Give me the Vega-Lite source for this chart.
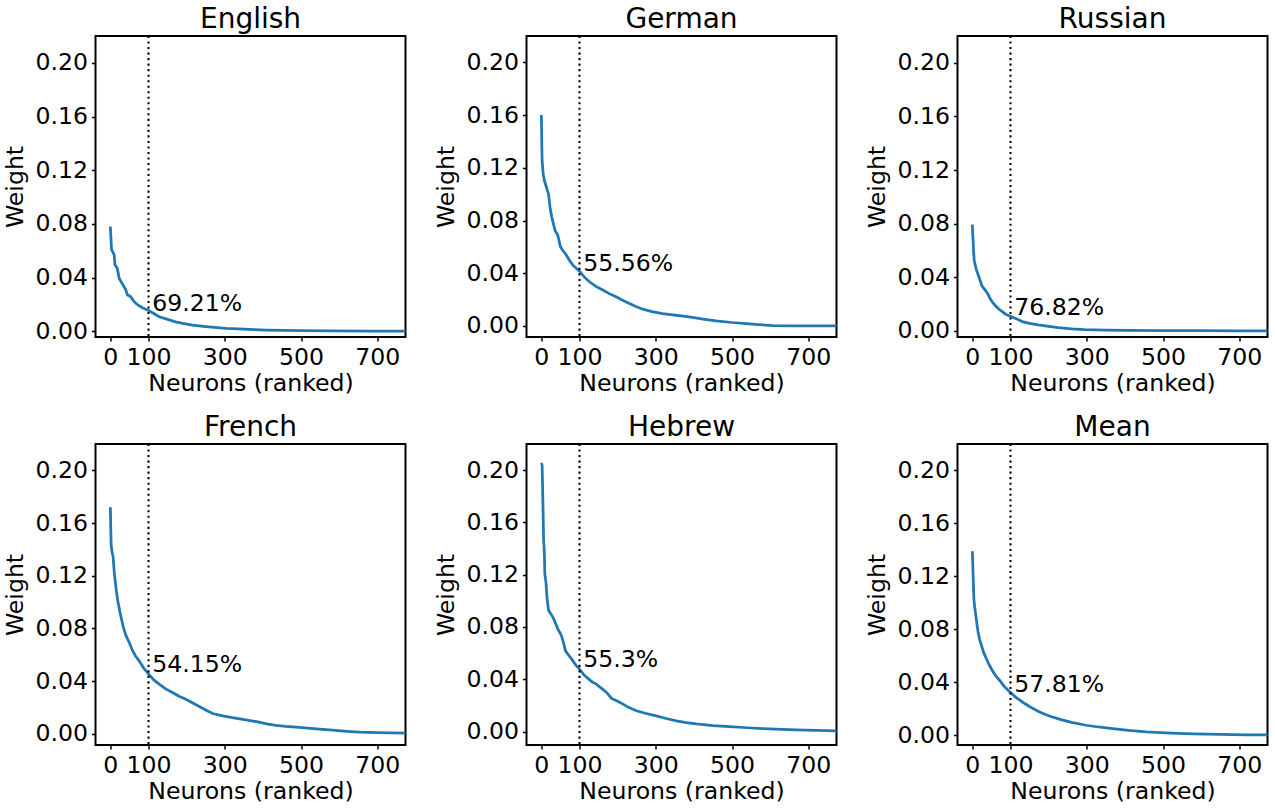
{
  "$schema": "https://vega.github.io/schema/vega-lite/v6.json",
  "background": "white",
  "padding": {"left": 2.5, "top": 5, "right": 5, "bottom": 5},
  "bounds": "flush",
  "columns": 3,
  "spacing": {"row": 107, "column": 121},
  "datasets": {
    "curves": [
      {"lang":"English","rank":0,"weight":0.078},{"lang":"English","rank":1,"weight":0.072},{"lang":"English","rank":3,"weight":0.061},{"lang":"English","rank":8,"weight":0.058},{"lang":"English","rank":10,"weight":0.057},{"lang":"English","rank":12,"weight":0.0495},{"lang":"English","rank":18,"weight":0.047},{"lang":"English","rank":23,"weight":0.0395},{"lang":"English","rank":28,"weight":0.037},{"lang":"English","rank":33,"weight":0.0345},{"lang":"English","rank":40,"weight":0.031},{"lang":"English","rank":45,"weight":0.027},{"lang":"English","rank":53,"weight":0.0258},{"lang":"English","rank":60,"weight":0.023},{"lang":"English","rank":66,"weight":0.021},{"lang":"English","rank":75,"weight":0.019},{"lang":"English","rank":84,"weight":0.0175},{"lang":"English","rank":100,"weight":0.0155},{"lang":"English","rank":115,"weight":0.013},{"lang":"English","rank":128,"weight":0.0108},{"lang":"English","rank":150,"weight":0.0088},{"lang":"English","rank":171,"weight":0.007},{"lang":"English","rank":190,"weight":0.0058},{"lang":"English","rank":215,"weight":0.0045},{"lang":"English","rank":250,"weight":0.0035},{"lang":"English","rank":303,"weight":0.0022},{"lang":"English","rank":350,"weight":0.0015},{"lang":"English","rank":408,"weight":0.0009},{"lang":"English","rank":500,"weight":0.0005},{"lang":"English","rank":583,"weight":0.0003},{"lang":"English","rank":680,"weight":0.0001},{"lang":"English","rank":774,"weight":0.0},
      {"lang":"German","rank":0,"weight":0.16},{"lang":"German","rank":1,"weight":0.14},{"lang":"German","rank":2,"weight":0.125},{"lang":"German","rank":5,"weight":0.115},{"lang":"German","rank":8,"weight":0.11},{"lang":"German","rank":14,"weight":0.1047},{"lang":"German","rank":19,"weight":0.0996},{"lang":"German","rank":23,"weight":0.0895},{"lang":"German","rank":27,"weight":0.083},{"lang":"German","rank":30,"weight":0.0793},{"lang":"German","rank":36,"weight":0.0722},{"lang":"German","rank":43,"weight":0.069},{"lang":"German","rank":50,"weight":0.06},{"lang":"German","rank":57,"weight":0.057},{"lang":"German","rank":65,"weight":0.054},{"lang":"German","rank":73,"weight":0.05},{"lang":"German","rank":82,"weight":0.0463},{"lang":"German","rank":100,"weight":0.0415},{"lang":"German","rank":113,"weight":0.037},{"lang":"German","rank":126,"weight":0.0335},{"lang":"German","rank":143,"weight":0.03},{"lang":"German","rank":161,"weight":0.0272},{"lang":"German","rank":178,"weight":0.0245},{"lang":"German","rank":196,"weight":0.0221},{"lang":"German","rank":213,"weight":0.0195},{"lang":"German","rank":231,"weight":0.017},{"lang":"German","rank":248,"weight":0.0148},{"lang":"German","rank":266,"weight":0.0127},{"lang":"German","rank":290,"weight":0.0108},{"lang":"German","rank":318,"weight":0.0094},{"lang":"German","rank":350,"weight":0.0082},{"lang":"German","rank":388,"weight":0.0069},{"lang":"German","rank":420,"weight":0.0053},{"lang":"German","rank":458,"weight":0.0038},{"lang":"German","rank":500,"weight":0.0026},{"lang":"German","rank":537,"weight":0.0018},{"lang":"German","rank":570,"weight":0.001},{"lang":"German","rank":607,"weight":0.0003},{"lang":"German","rank":650,"weight":0.0001},{"lang":"German","rank":700,"weight":0.0},{"lang":"German","rank":774,"weight":0.0},
      {"lang":"Russian","rank":0,"weight":0.0793},{"lang":"Russian","rank":1,"weight":0.072},{"lang":"Russian","rank":2,"weight":0.0673},{"lang":"Russian","rank":3,"weight":0.06},{"lang":"Russian","rank":5,"weight":0.0524},{"lang":"Russian","rank":10,"weight":0.0461},{"lang":"Russian","rank":17,"weight":0.0404},{"lang":"Russian","rank":25,"weight":0.0337},{"lang":"Russian","rank":32,"weight":0.031},{"lang":"Russian","rank":40,"weight":0.0279},{"lang":"Russian","rank":47,"weight":0.024},{"lang":"Russian","rank":53,"weight":0.0212},{"lang":"Russian","rank":60,"weight":0.019},{"lang":"Russian","rank":70,"weight":0.0162},{"lang":"Russian","rank":80,"weight":0.014},{"lang":"Russian","rank":87,"weight":0.0125},{"lang":"Russian","rank":100,"weight":0.011},{"lang":"Russian","rank":115,"weight":0.0092},{"lang":"Russian","rank":131,"weight":0.007},{"lang":"Russian","rank":150,"weight":0.0057},{"lang":"Russian","rank":173,"weight":0.0045},{"lang":"Russian","rank":200,"weight":0.0034},{"lang":"Russian","rank":225,"weight":0.0025},{"lang":"Russian","rank":260,"weight":0.0016},{"lang":"Russian","rank":295,"weight":0.001},{"lang":"Russian","rank":350,"weight":0.0007},{"lang":"Russian","rank":400,"weight":0.0005},{"lang":"Russian","rank":500,"weight":0.0003},{"lang":"Russian","rank":600,"weight":0.0002},{"lang":"Russian","rank":700,"weight":0.0001},{"lang":"Russian","rank":774,"weight":0.0},
      {"lang":"French","rank":0,"weight":0.172},{"lang":"French","rank":1,"weight":0.156},{"lang":"French","rank":2,"weight":0.1434},{"lang":"French","rank":5,"weight":0.137},{"lang":"French","rank":7,"weight":0.135},{"lang":"French","rank":10,"weight":0.123},{"lang":"French","rank":13,"weight":0.115},{"lang":"French","rank":16,"weight":0.1078},{"lang":"French","rank":20,"weight":0.1},{"lang":"French","rank":25,"weight":0.0925},{"lang":"French","rank":30,"weight":0.086},{"lang":"French","rank":34,"weight":0.081},{"lang":"French","rank":40,"weight":0.0752},{"lang":"French","rank":45,"weight":0.072},{"lang":"French","rank":49,"weight":0.0696},{"lang":"French","rank":58,"weight":0.0632},{"lang":"French","rank":66,"weight":0.059},{"lang":"French","rank":75,"weight":0.0555},{"lang":"French","rank":87,"weight":0.05},{"lang":"French","rank":100,"weight":0.0455},{"lang":"French","rank":113,"weight":0.041},{"lang":"French","rank":128,"weight":0.0377},{"lang":"French","rank":145,"weight":0.034},{"lang":"French","rank":163,"weight":0.0313},{"lang":"French","rank":180,"weight":0.0285},{"lang":"French","rank":198,"weight":0.0262},{"lang":"French","rank":215,"weight":0.0235},{"lang":"French","rank":233,"weight":0.0206},{"lang":"French","rank":250,"weight":0.018},{"lang":"French","rank":268,"weight":0.0153},{"lang":"French","rank":295,"weight":0.0135},{"lang":"French","rank":320,"weight":0.0122},{"lang":"French","rank":355,"weight":0.0105},{"lang":"French","rank":390,"weight":0.0088},{"lang":"French","rank":410,"weight":0.0075},{"lang":"French","rank":434,"weight":0.0063},{"lang":"French","rank":460,"weight":0.0055},{"lang":"French","rank":495,"weight":0.0047},{"lang":"French","rank":540,"weight":0.0037},{"lang":"French","rank":583,"weight":0.0027},{"lang":"French","rank":620,"weight":0.0018},{"lang":"French","rank":653,"weight":0.0012},{"lang":"French","rank":700,"weight":0.0008},{"lang":"French","rank":774,"weight":0.0005},
      {"lang":"Hebrew","rank":0,"weight":0.2056},{"lang":"Hebrew","rank":2,"weight":0.2038},{"lang":"Hebrew","rank":3,"weight":0.19},{"lang":"Hebrew","rank":4,"weight":0.1757},{"lang":"Hebrew","rank":6,"weight":0.145},{"lang":"Hebrew","rank":7,"weight":0.142},{"lang":"Hebrew","rank":8,"weight":0.1348},{"lang":"Hebrew","rank":9,"weight":0.1207},{"lang":"Hebrew","rank":12,"weight":0.1143},{"lang":"Hebrew","rank":15,"weight":0.1015},{"lang":"Hebrew","rank":19,"weight":0.0926},{"lang":"Hebrew","rank":25,"weight":0.09},{"lang":"Hebrew","rank":30,"weight":0.0875},{"lang":"Hebrew","rank":37,"weight":0.083},{"lang":"Hebrew","rank":43,"weight":0.0785},{"lang":"Hebrew","rank":50,"weight":0.075},{"lang":"Hebrew","rank":54,"weight":0.0721},{"lang":"Hebrew","rank":58,"weight":0.068},{"lang":"Hebrew","rank":63,"weight":0.0619},{"lang":"Hebrew","rank":70,"weight":0.059},{"lang":"Hebrew","rank":78,"weight":0.056},{"lang":"Hebrew","rank":90,"weight":0.051},{"lang":"Hebrew","rank":100,"weight":0.0478},{"lang":"Hebrew","rank":111,"weight":0.0435},{"lang":"Hebrew","rank":122,"weight":0.0407},{"lang":"Hebrew","rank":133,"weight":0.038},{"lang":"Hebrew","rank":144,"weight":0.0363},{"lang":"Hebrew","rank":158,"weight":0.033},{"lang":"Hebrew","rank":171,"weight":0.0299},{"lang":"Hebrew","rank":184,"weight":0.0253},{"lang":"Hebrew","rank":200,"weight":0.0232},{"lang":"Hebrew","rank":214,"weight":0.021},{"lang":"Hebrew","rank":230,"weight":0.0183},{"lang":"Hebrew","rank":249,"weight":0.0159},{"lang":"Hebrew","rank":275,"weight":0.0138},{"lang":"Hebrew","rank":301,"weight":0.012},{"lang":"Hebrew","rank":330,"weight":0.0098},{"lang":"Hebrew","rank":354,"weight":0.0082},{"lang":"Hebrew","rank":380,"weight":0.0068},{"lang":"Hebrew","rank":406,"weight":0.0058},{"lang":"Hebrew","rank":450,"weight":0.0046},{"lang":"Hebrew","rank":494,"weight":0.0037},{"lang":"Hebrew","rank":540,"weight":0.0029},{"lang":"Hebrew","rank":581,"weight":0.0023},{"lang":"Hebrew","rank":630,"weight":0.0017},{"lang":"Hebrew","rank":669,"weight":0.0013},{"lang":"Hebrew","rank":720,"weight":0.0009},{"lang":"Hebrew","rank":774,"weight":0.0005},
      {"lang":"Mean","rank":0,"weight":0.139},{"lang":"Mean","rank":1,"weight":0.13},{"lang":"Mean","rank":2,"weight":0.121},{"lang":"Mean","rank":3,"weight":0.111},{"lang":"Mean","rank":4,"weight":0.1033},{"lang":"Mean","rank":6,"weight":0.097},{"lang":"Mean","rank":9,"weight":0.0906},{"lang":"Mean","rank":12,"weight":0.084},{"lang":"Mean","rank":15,"weight":0.078},{"lang":"Mean","rank":19,"weight":0.0725},{"lang":"Mean","rank":24,"weight":0.0678},{"lang":"Mean","rank":29,"weight":0.063},{"lang":"Mean","rank":35,"weight":0.059},{"lang":"Mean","rank":42,"weight":0.0545},{"lang":"Mean","rank":50,"weight":0.0501},{"lang":"Mean","rank":60,"weight":0.0455},{"lang":"Mean","rank":72,"weight":0.0413},{"lang":"Mean","rank":85,"weight":0.0365},{"lang":"Mean","rank":100,"weight":0.0324},{"lang":"Mean","rank":115,"weight":0.0285},{"lang":"Mean","rank":133,"weight":0.0248},{"lang":"Mean","rank":153,"weight":0.0212},{"lang":"Mean","rank":176,"weight":0.0177},{"lang":"Mean","rank":200,"weight":0.0148},{"lang":"Mean","rank":228,"weight":0.0122},{"lang":"Mean","rank":260,"weight":0.0098},{"lang":"Mean","rank":298,"weight":0.0076},{"lang":"Mean","rank":330,"weight":0.0063},{"lang":"Mean","rank":368,"weight":0.0051},{"lang":"Mean","rank":410,"weight":0.0038},{"lang":"Mean","rank":456,"weight":0.0027},{"lang":"Mean","rank":520,"weight":0.0017},{"lang":"Mean","rank":581,"weight":0.0011},{"lang":"Mean","rank":650,"weight":0.0007},{"lang":"Mean","rank":720,"weight":0.0004},{"lang":"Mean","rank":774,"weight":0.0003}
    ],
    "notes": [
      {"lang":"English","label":"69.21%"},
      {"lang":"German","label":"55.56%"},
      {"lang":"Russian","label":"76.82%"},
      {"lang":"French","label":"54.15%"},
      {"lang":"Hebrew","label":"55.3%"},
      {"lang":"Mean","label":"57.81%"}
    ]
  },
  "concat": [
    {"title":"English","width":310,"height":301,"layer":[
      {"data":{"name":"curves"},"transform":[{"filter":"datum.lang === 'English'"}],"mark":{"type":"line","color":"#1f77b4","strokeWidth":2.75},
       "encoding":{"x":{"field":"rank","type":"quantitative","title":"Neurons (ranked)","scale":{"domain":[-39,774],"nice":false,"zero":false},"axis":{"values":[0,100,300,500,700]}},
                   "y":{"field":"weight","type":"quantitative","title":"Weight","scale":{"domain":[-0.0043,0.22],"nice":false,"zero":false},"axis":{"values":[0,0.04,0.08,0.12,0.16,0.2],"format":".2f"}}}},
      {"data":{"values":[{}]},"mark":{"type":"rule","color":"black","strokeDash":[2.08,3.44],"strokeWidth":2.08},"encoding":{"x":{"datum":100}}},
      {"data":{"name":"notes"},"transform":[{"filter":"datum.lang === 'English'"}],"mark":{"type":"text","align":"left","baseline":"alphabetic","fontSize":23.6,"font":"DejaVu Sans","color":"black"},
       "encoding":{"x":{"datum":110},"y":{"datum":0.0152},"text":{"field":"label"}}}
    ]},
    {"title":"German","width":310,"height":301,"layer":[
      {"data":{"name":"curves"},"transform":[{"filter":"datum.lang === 'German'"}],"mark":{"type":"line","color":"#1f77b4","strokeWidth":2.75},
       "encoding":{"x":{"field":"rank","type":"quantitative","title":"Neurons (ranked)","scale":{"domain":[-39,774],"nice":false,"zero":false},"axis":{"values":[0,100,300,500,700]}},
                   "y":{"field":"weight","type":"quantitative","title":"Weight","scale":{"domain":[-0.0084,0.22],"nice":false,"zero":false},"axis":{"values":[0,0.04,0.08,0.12,0.16,0.2],"format":".2f"}}}},
      {"data":{"values":[{}]},"mark":{"type":"rule","color":"black","strokeDash":[2.08,3.44],"strokeWidth":2.08},"encoding":{"x":{"datum":100}}},
      {"data":{"name":"notes"},"transform":[{"filter":"datum.lang === 'German'"}],"mark":{"type":"text","align":"left","baseline":"alphabetic","fontSize":23.6,"font":"DejaVu Sans","color":"black"},
       "encoding":{"x":{"datum":110},"y":{"datum":0.0419},"text":{"field":"label"}}}
    ]},
    {"title":"Russian","width":310,"height":301,"layer":[
      {"data":{"name":"curves"},"transform":[{"filter":"datum.lang === 'Russian'"}],"mark":{"type":"line","color":"#1f77b4","strokeWidth":2.75},
       "encoding":{"x":{"field":"rank","type":"quantitative","title":"Neurons (ranked)","scale":{"domain":[-39,774],"nice":false,"zero":false},"axis":{"values":[0,100,300,500,700]}},
                   "y":{"field":"weight","type":"quantitative","title":"Weight","scale":{"domain":[-0.0045,0.22],"nice":false,"zero":false},"axis":{"values":[0,0.04,0.08,0.12,0.16,0.2],"format":".2f"}}}},
      {"data":{"values":[{}]},"mark":{"type":"rule","color":"black","strokeDash":[2.08,3.44],"strokeWidth":2.08},"encoding":{"x":{"datum":100}}},
      {"data":{"name":"notes"},"transform":[{"filter":"datum.lang === 'Russian'"}],"mark":{"type":"text","align":"left","baseline":"alphabetic","fontSize":23.6,"font":"DejaVu Sans","color":"black"},
       "encoding":{"x":{"datum":110},"y":{"datum":0.012},"text":{"field":"label"}}}
    ]},
    {"title":"French","width":310,"height":301,"layer":[
      {"data":{"name":"curves"},"transform":[{"filter":"datum.lang === 'French'"}],"mark":{"type":"line","color":"#1f77b4","strokeWidth":2.75},
       "encoding":{"x":{"field":"rank","type":"quantitative","title":"Neurons (ranked)","scale":{"domain":[-39,774],"nice":false,"zero":false},"axis":{"values":[0,100,300,500,700]}},
                   "y":{"field":"weight","type":"quantitative","title":"Weight","scale":{"domain":[-0.0086,0.22],"nice":false,"zero":false},"axis":{"values":[0,0.04,0.08,0.12,0.16,0.2],"format":".2f"}}}},
      {"data":{"values":[{}]},"mark":{"type":"rule","color":"black","strokeDash":[2.08,3.44],"strokeWidth":2.08},"encoding":{"x":{"datum":100}}},
      {"data":{"name":"notes"},"transform":[{"filter":"datum.lang === 'French'"}],"mark":{"type":"text","align":"left","baseline":"alphabetic","fontSize":23.6,"font":"DejaVu Sans","color":"black"},
       "encoding":{"x":{"datum":110},"y":{"datum":0.0472},"text":{"field":"label"}}}
    ]},
    {"title":"Hebrew","width":310,"height":301,"layer":[
      {"data":{"name":"curves"},"transform":[{"filter":"datum.lang === 'Hebrew'"}],"mark":{"type":"line","color":"#1f77b4","strokeWidth":2.75},
       "encoding":{"x":{"field":"rank","type":"quantitative","title":"Neurons (ranked)","scale":{"domain":[-39,774],"nice":false,"zero":false},"axis":{"values":[0,100,300,500,700]}},
                   "y":{"field":"weight","type":"quantitative","title":"Weight","scale":{"domain":[-0.0103,0.22],"nice":false,"zero":false},"axis":{"values":[0,0.04,0.08,0.12,0.16,0.2],"format":".2f"}}}},
      {"data":{"values":[{}]},"mark":{"type":"rule","color":"black","strokeDash":[2.08,3.44],"strokeWidth":2.08},"encoding":{"x":{"datum":100}}},
      {"data":{"name":"notes"},"transform":[{"filter":"datum.lang === 'Hebrew'"}],"mark":{"type":"text","align":"left","baseline":"alphabetic","fontSize":23.6,"font":"DejaVu Sans","color":"black"},
       "encoding":{"x":{"datum":110},"y":{"datum":0.0491},"text":{"field":"label"}}}
    ]},
    {"title":"Mean","width":310,"height":301,"layer":[
      {"data":{"name":"curves"},"transform":[{"filter":"datum.lang === 'Mean'"}],"mark":{"type":"line","color":"#1f77b4","strokeWidth":2.75},
       "encoding":{"x":{"field":"rank","type":"quantitative","title":"Neurons (ranked)","scale":{"domain":[-39,774],"nice":false,"zero":false},"axis":{"values":[0,100,300,500,700]}},
                   "y":{"field":"weight","type":"quantitative","title":"Weight","scale":{"domain":[-0.0073,0.22],"nice":false,"zero":false},"axis":{"values":[0,0.04,0.08,0.12,0.16,0.2],"format":".2f"}}}},
      {"data":{"values":[{}]},"mark":{"type":"rule","color":"black","strokeDash":[2.08,3.44],"strokeWidth":2.08},"encoding":{"x":{"datum":100}}},
      {"data":{"name":"notes"},"transform":[{"filter":"datum.lang === 'Mean'"}],"mark":{"type":"text","align":"left","baseline":"alphabetic","fontSize":23.6,"font":"DejaVu Sans","color":"black"},
       "encoding":{"x":{"datum":110},"y":{"datum":0.033},"text":{"field":"label"}}}
    ]}
  ],
  "config": {
    "font": "DejaVu Sans",
    "view": {"stroke": "black", "strokeWidth": 2},
    "axis": {"grid": false, "domain": false, "labelFont": "DejaVu Sans", "labelFontSize": 23.6, "labelColor": "black", "labelOverlap": false, "labelFlush": false, "labelPadding": 4, "titleFont": "DejaVu Sans", "titleFontSize": 23.6, "titleFontWeight": "normal", "titleColor": "black", "tickColor": "black", "tickSize": 4, "tickWidth": 1.5},
    "axisX": {"titlePadding": 2.5},
    "axisY": {"titlePadding": 7},
    "title": {"font": "DejaVu Sans", "fontSize": 28, "fontWeight": "normal", "color": "black", "anchor": "middle", "frame": "group", "offset": 0.5}
  }
}
